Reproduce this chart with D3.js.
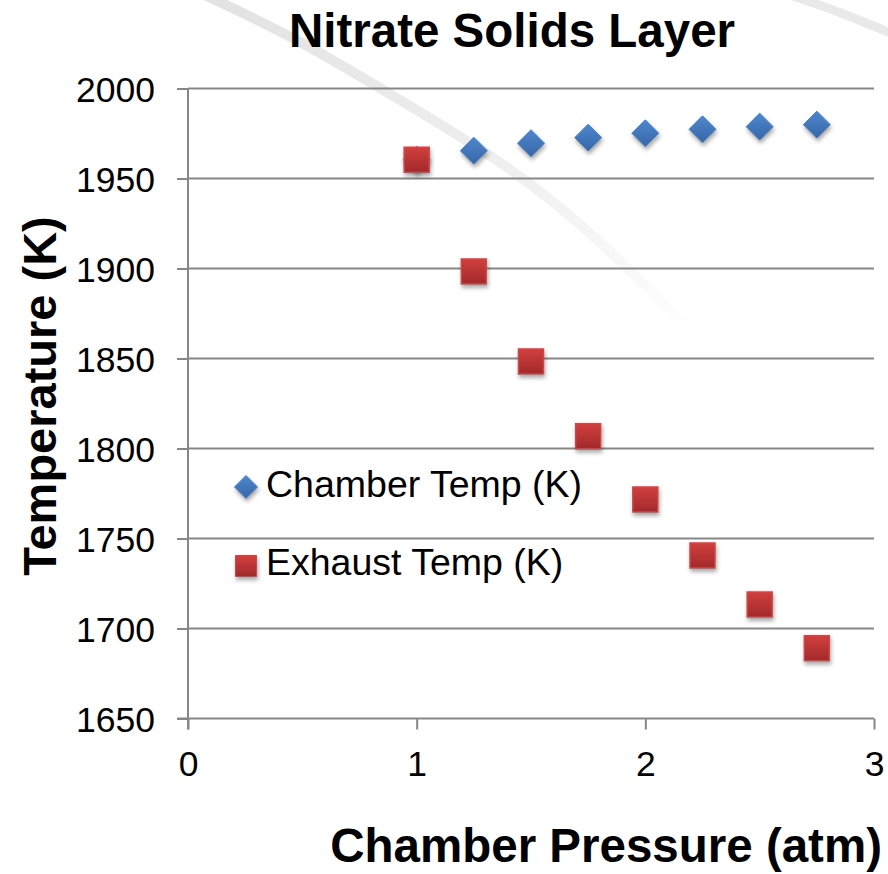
<!DOCTYPE html>
<html>
<head>
<meta charset="utf-8">
<script src="https://cdn.jsdelivr.net/npm/d3@7"></script>
<style>
  html, body { margin: 0; padding: 0; background: #ffffff; }
  svg { display: block; }
  text { font-family: "Liberation Sans", Arial, sans-serif; fill: #000; }
</style>
</head>
<body>
<script>
// Chamber pressure sweep for the nitrate solids layer
const pressure = [1, 1.25, 1.5, 1.75, 2, 2.25, 2.5, 2.75];
const chamberTemp = [1960.4, 1965.4, 1969.6, 1972.7, 1975.1, 1977.3, 1978.8, 1979.9];
const exhaustTemp = [1960.4, 1898.4, 1848.4, 1806.8, 1771.7, 1740.6, 1713.3, 1689.0];
const seriesNames = ["Chamber Temp (K)", "Exhaust Temp (K)"];
const xTicks = [0, 1, 2, 3];
const yTicks = [1650, 1700, 1750, 1800, 1850, 1900, 1950, 2000];

const W = 888, H = 874;
const svg = d3.select("body").append("svg").attr("width", W).attr("height", H);
const defs = svg.append("defs");

// marker fills
const gBlue = defs.append("linearGradient").attr("id", "gBlue").attr("x1", 0).attr("y1", 0).attr("x2", 0).attr("y2", 1);
gBlue.append("stop").attr("offset", "0%").attr("stop-color", "#4f87cc");
gBlue.append("stop").attr("offset", "100%").attr("stop-color", "#3666a8");
const gRed = defs.append("linearGradient").attr("id", "gRed").attr("x1", 0).attr("y1", 0).attr("x2", 0).attr("y2", 1);
gRed.append("stop").attr("offset", "0%").attr("stop-color", "#d13f3d");
gRed.append("stop").attr("offset", "100%").attr("stop-color", "#a3292b");
const shadow = defs.append("filter").attr("id", "shadow").attr("x", "-50%").attr("y", "-50%").attr("width", "200%").attr("height", "200%");
shadow.append("feDropShadow").attr("dx", 1).attr("dy", 3).attr("stdDeviation", 2)
  .attr("flood-color", "#000").attr("flood-opacity", 0.35);

// faint background swooshes
const swoosh = defs.append("linearGradient").attr("id", "swoosh").attr("gradientUnits", "userSpaceOnUse")
  .attr("x1", 210).attr("y1", 0).attr("x2", 700).attr("y2", 340);
swoosh.append("stop").attr("offset", "0%").attr("stop-color", "#e2e2e2");
swoosh.append("stop").attr("offset", "60%").attr("stop-color", "#f0f0f0");
swoosh.append("stop").attr("offset", "100%").attr("stop-color", "#ffffff");
const curve = d3.line().curve(d3.curveBasis);
svg.append("path")
  .attr("d", curve([[205, -5], [300, 40], [400, 100], [500, 160], [585, 225], [700, 340]]))
  .attr("fill", "none").attr("stroke", "url(#swoosh)").attr("stroke-width", 10);
svg.append("path")
  .attr("d", curve([[790, -5], [840, 12], [895, 35]]))
  .attr("fill", "none").attr("stroke", "#e9e9e9").attr("stroke-width", 9);

const x = d3.scaleLinear().domain([0, 3]).range([188, 874]);
const y = d3.scaleLinear().domain([1650, 2000]).range([718.5, 88.5]);
const axisColor = "#878787";

// horizontal gridlines
svg.append("g").selectAll("line").data(yTicks.filter(d => d !== 1650)).join("line")
  .attr("x1", x(0)).attr("x2", x(3))
  .attr("y1", d => y(d)).attr("y2", d => y(d))
  .attr("stroke", axisColor).attr("stroke-width", 2);

// y axis
const yAxis = svg.append("g").attr("transform", `translate(${x(0)},0)`)
  .call(d3.axisLeft(y).tickValues(yTicks).tickSize(11).tickPadding(22).tickFormat(d3.format("d")));
yAxis.select(".domain").attr("stroke", axisColor).attr("stroke-width", 2)
  .attr("d", `M0,${y(2000)}V${y(1650) + 11}`);
yAxis.selectAll(".tick line").attr("stroke", axisColor).attr("stroke-width", 2);
yAxis.selectAll(".tick text").attr("font-size", 35.5)
  .attr("fill", "#000").attr("dy", "0.36em").attr("x", -33);

// x axis
const xAxis = svg.append("g").attr("transform", `translate(0,${y(1650)})`)
  .call(d3.axisBottom(x).tickValues(xTicks).tickSize(11).tickFormat(d3.format("d")));
xAxis.select(".domain").attr("stroke", axisColor).attr("stroke-width", 2)
  .attr("d", `M${x(0) - 11},0H${x(3)}`);
xAxis.selectAll(".tick line").attr("stroke", axisColor).attr("stroke-width", 2);
xAxis.selectAll(".tick text").attr("font-size", 35.5)
  .attr("fill", "#000").attr("y", 45).attr("dy", "0.36em");

// markers
const diamond = s => `M0,${-s / 2}L${s / 2},0L0,${s / 2}L${-s / 2},0Z`;
const square = s => `M${-s / 2},${-s / 2}h${s}v${s}h${-s}Z`;

svg.append("g").selectAll("path").data(pressure.map((p, i) => [p, chamberTemp[i]])).join("path")
  .attr("transform", d => `translate(${x(d[0])},${y(d[1])})`)
  .attr("d", diamond(27)).attr("fill", "url(#gBlue)").attr("stroke", "#4a7fc4").attr("stroke-width", 1)
  .attr("filter", "url(#shadow)");

svg.append("g").selectAll("path").data(pressure.map((p, i) => [p, exhaustTemp[i]])).join("path")
  .attr("transform", d => `translate(${x(d[0])},${y(d[1])})`)
  .attr("d", square(25)).attr("fill", "url(#gRed)").attr("stroke", "#c9494a").attr("stroke-width", 1.5)
  .attr("filter", "url(#shadow)");

// legend
const legend = svg.append("g");
const legendRows = [
  { name: seriesNames[0], shape: diamond(23), fill: "url(#gBlue)", stroke: "#4a7fc4", cy: 487, base: 497 },
  { name: seriesNames[1], shape: square(21), fill: "url(#gRed)", stroke: "#c9494a", cy: 566, base: 575 }
];
legendRows.forEach(r => {
  legend.append("path").attr("transform", `translate(246,${r.cy})`).attr("d", r.shape)
    .attr("fill", r.fill).attr("stroke", r.stroke).attr("stroke-width", 1).attr("filter", "url(#shadow)");
  legend.append("text").attr("x", 266).attr("y", r.base).attr("font-size", 37.5).text(r.name);
});

// titles
svg.append("text").attr("x", 512).attr("y", 47).attr("text-anchor", "middle")
  .attr("font-size", 47.5).attr("font-weight", "bold").text("Nitrate Solids Layer");
svg.append("text").attr("x", 882).attr("y", 862).attr("text-anchor", "end")
  .attr("font-size", 47.5).attr("font-weight", "bold").text("Chamber Pressure (atm)");
svg.append("text").attr("transform", "translate(56,396) rotate(-90)").attr("text-anchor", "middle")
  .attr("font-size", 47).attr("font-weight", "bold").text("Temperature (K)");
</script>
</body>
</html>
